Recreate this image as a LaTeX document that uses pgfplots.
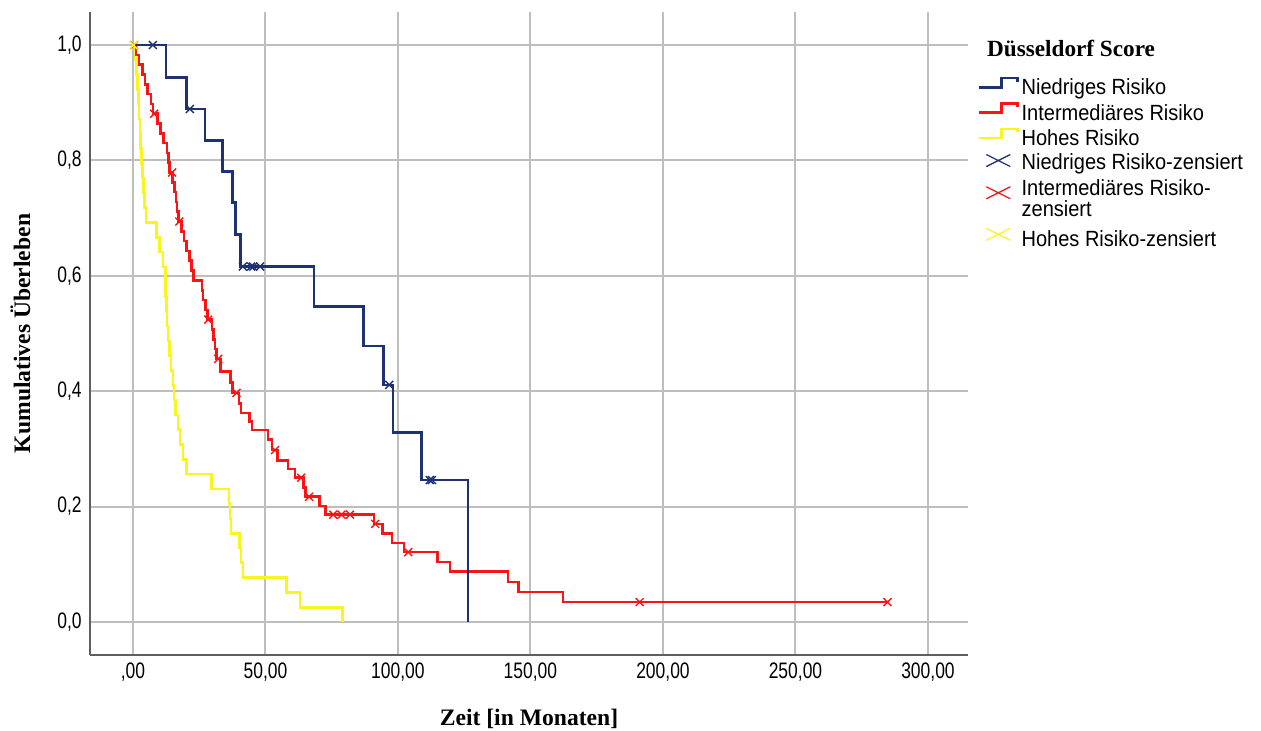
\documentclass[border=0pt]{standalone}
\usepackage{fontspec}
\setmainfont{Liberation Serif}
\newfontfamily\ticksfont[FakeStretch=0.78]{Liberation Sans}
\newfontfamily\legendsans[FakeStretch=0.91]{Liberation Sans}
\usepackage{pgfplots}
\pgfplotsset{compat=1.18}

\definecolor{kmnavy}{RGB}{30,50,115}
\definecolor{kmred}{RGB}{250,20,20}
\definecolor{kmyellow}{RGB}{250,245,30}
\definecolor{gridgray}{RGB}{190,190,190}
\definecolor{axisgray}{RGB}{95,95,95}

% legend symbols: a small step for the survival curves, a flat cross for censored cases
\pgfplotsset{
  km step legend/.style={legend image code/.code={%
    \draw[##1, line join=miter, line cap=butt] (0bp,1.0bp) -- (11bp,1.0bp) -- (11bp,5.6bp) -- (19bp,5.6bp) -- (19bp,3.8bp);}},
  km cross legend/.style={legend image code/.code={%
    \draw[##1] (3.5bp,-1.8bp) -- (15.5bp,4.2bp) (3.5bp,4.2bp) -- (15.5bp,-1.8bp);}},
}
% legend text with a fixed strut (height, depth) so that rows are spaced evenly
\newcommand\lgd[1]{\strut\smash{#1}}
\newcommand\lgdr[3]{\rule[-#2]{0pt}{#1}\smash{#3}}

\begin{document}
\begin{tikzpicture}
\useasboundingbox (-45bp,-38bp) rectangle (585.5bp,327.5bp);
\begin{axis}[
  scale only axis, width=439bp, height=321.5bp,
  xmin=-16.2, xmax=315.1, ymin=-0.0572, ymax=1.0572,
  axis x line*=bottom, axis y line*=left,
  axis line style={axisgray, line width=0.9bp, -},
  xtick={0,50,100,150,200,250,300},
  ytick={0,0.2,0.4,0.6,0.8,1},
  xticklabels={{,00},{50,00},{100,00},{150,00},{200,00},{250,00},{300,00}},
  yticklabels={{0,0},{0,2},{0,4},{0,6},{0,8},{1,0}},
  major tick length=0pt,
  grid=major, major grid style={gridgray, line width=1bp},
  ticklabel style={font=\ticksfont\fontsize{11.2bp}{12bp}\selectfont, inner sep=0pt},
  xticklabel style={anchor=north, yshift=-3.5bp},
  yticklabel style={anchor=east, xshift=-4bp},
  xlabel={Zeit [in Monaten]},
  ylabel={Kumulatives Überleben},
  label style={font=\bfseries\fontsize{11.8bp}{13bp}\selectfont, inner sep=0pt},
  xlabel style={at={(axis description cs:0.5,-0.1104)}, anchor=base},
  ylabel style={at={(axis description cs:-0.0683,0.5)}, anchor=base},
  legend style={at={(axis description cs:1.0114,0.8993)}, anchor=north west,
    draw=none, fill=none, inner sep=0pt, outer sep=0pt,
    row sep=2.2bp, column sep=1.5bp,
    nodes={inner sep=0pt, font=\legendsans\fontsize{11bp}{10bp}\selectfont},
    cells={anchor=west}},
  legend cell align=left,
]

% high risk
\addplot[const plot, kmyellow, line width=1.3bp, forget plot] table {
t S
0 1
1.0 0.9744
1.3 0.9487
1.7 0.9231
2.0 0.8974
2.3 0.8718
2.6 0.8462
2.9 0.8205
3.2 0.7949
3.5 0.7692
3.9 0.7436
4.4 0.7179
5.0 0.6923
8.9 0.6667
10.1 0.6410
11.4 0.6154
12.2 0.5897
12.4 0.5641
12.6 0.5385
12.8 0.5128
13.2 0.4872
13.8 0.4615
14.4 0.4359
15.1 0.4103
15.5 0.3846
16.0 0.3590
17.0 0.3333
17.8 0.3077
18.9 0.2821
20.3 0.2564
29.7 0.2308
36.3 0.2051
36.6 0.1795
37.0 0.1538
40.1 0.1282
40.8 0.1026
41.5 0.0769
58.0 0.0513
63.0 0.0256
79.1 0
};

% intermediate risk
\addplot[const plot, kmred, line width=1.3bp, forget plot] table {
t S
0 1
1.2 0.983
2.3 0.966
3.5 0.949
4.6 0.932
5.6 0.915
6.8 0.898
7.5 0.881
9.3 0.864
10.3 0.847
11.5 0.830
12.8 0.813
13.4 0.796
13.8 0.779
15.0 0.762
15.7 0.745
16.2 0.728
16.7 0.711
17.3 0.694
18.3 0.677
19.2 0.660
20.3 0.643
21.3 0.626
22.1 0.609
22.9 0.592
26.0 0.575
26.4 0.558
27.3 0.541
28.1 0.524
29.9 0.507
30.4 0.490
30.9 0.473
31.6 0.456
33.0 0.434
36.8 0.415
37.6 0.397
40.0 0.379
40.8 0.362
44.0 0.348
45.0 0.333
51.0 0.316
52.5 0.298
54.5 0.280
58.5 0.265
61.2 0.250
64.3 0.233
65.2 0.217
70.3 0.201
72.7 0.186
91.0 0.170
94.2 0.153
97.8 0.137
102.3 0.121
115.0 0.104
119.6 0.087
141.5 0.069
145.5 0.052
162.3 0.0345
284.7 0.0345
};

% low risk
\addplot[const plot, kmnavy, line width=1.3bp, forget plot] table {
t S
0 1
12.5 0.944
20.3 0.889
27.2 0.835
33.8 0.781
37.6 0.727
38.8 0.672
40.6 0.616
68.3 0.547
86.9 0.478
94.5 0.411
98.2 0.328
108.9 0.246
126.5 0
};

% censored cases
\addplot[only marks, mark=x, mark size=2.8bp, kmred, mark options={line width=0.7bp}, forget plot] table {
t S
0.4 1.0
8.0 0.881
14.8 0.779
17.5 0.694
28.4 0.524
32.2 0.456
39.1 0.397
53.6 0.298
63.5 0.250
66.5 0.217
75.6 0.186
78.7 0.186
81.9 0.186
91.4 0.170
103.9 0.121
191.2 0.0345
284.7 0.0345
};
\addplot[only marks, mark=x, mark size=2.8bp, kmyellow, mark options={line width=0.7bp}, forget plot] table {
t S
0.2 1.0
};
\addplot[only marks, mark=x, mark size=2.8bp, kmnavy, mark options={line width=0.7bp}, forget plot] table {
t S
7.5 1.0
21.5 0.889
41.5 0.616
44.6 0.616
45.4 0.616
48.0 0.616
96.7 0.411
112.0 0.246
112.8 0.246
};

\addlegendimage{km step legend, kmnavy, line width=1.3bp}
\addlegendentry{\lgd{Niedriges Risiko}}
\addlegendimage{km step legend, kmred, line width=1.3bp}
\addlegendentry{\lgd{Intermediäres Risiko}}
\addlegendimage{km step legend, kmyellow, line width=1.3bp}
\addlegendentry{\lgd{Hohes Risiko}}
\addlegendimage{km cross legend, kmnavy, line width=0.65bp}
\addlegendentry{\lgdr{13bp}{4.5bp}{Niedriges Risiko-zensiert}}
\addlegendimage{km cross legend, kmred, line width=0.65bp, yshift=-3.7bp}
\addlegendentry{\lgdr{14bp}{5bp}{Intermediäres Risiko-}}
\addlegendimage{empty legend}
\addlegendentry{\lgdr{8.4bp}{2.2bp}{zensiert}}
\addlegendimage{km cross legend, kmyellow, line width=0.65bp}
\addlegendentry{\lgdr{19.2bp}{7.6bp}{Hohes Risiko-zensiert}}
\end{axis}
\node[anchor=base west, inner sep=0pt, font=\bfseries\fontsize{11.6bp}{13bp}\selectfont]
  at (448.4bp,299.2bp) {Düsseldorf Score};
\end{tikzpicture}
\end{document}
